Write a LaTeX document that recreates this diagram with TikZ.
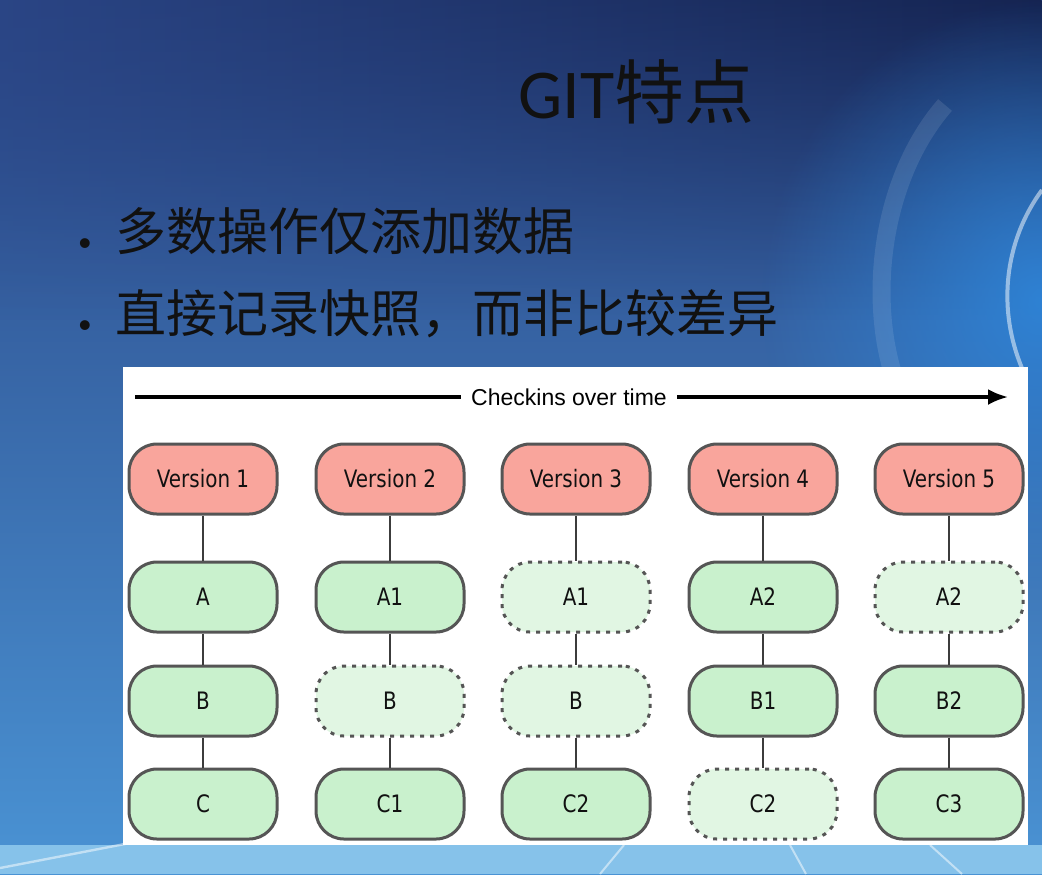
\documentclass[tikz,border=0pt]{standalone}
\usepackage{fontspec}
\setmainfont{Liberation Sans}
\newfontfamily\cjkfont{Noto Sans CJK SC}
\newfontfamily\titlefont{Carlito}
\newfontfamily\boxfont[FakeStretch=0.83]{DejaVu Sans}
\usetikzlibrary{arrows.meta,fadings}

\definecolor{bgtop}{HTML}{2A4585}
\definecolor{bgbot}{HTML}{4A93D4}
\definecolor{bgdark}{HTML}{101C45}
\definecolor{glow}{HTML}{2E86DA}
\definecolor{floor}{HTML}{86C2EA}
\definecolor{verfill}{HTML}{F9A59C}
\definecolor{snapfill}{HTML}{C9F1CD}
\definecolor{samefill}{HTML}{E1F6E3}
\definecolor{edge}{HTML}{555555}
\definecolor{ink}{HTML}{111111}

\tikzfading[name=glowfade, inner color=transparent!0, outer color=transparent!100]

\tikzset{
  box/.style={rounded corners=14pt, minimum width=74pt, minimum height=35pt,
    line width=1.5pt, draw=edge, text=ink, font=\boxfont\fontsize{12}{14}\selectfont},
  ver/.style={box, fill=verfill},
  snap/.style={box, fill=snapfill},
  same/.style={box, fill=samefill, draw=edge, dash pattern=on 2pt off 3pt},
  link/.style={draw=edge!70!black, line width=0.8pt},
  timeline/.style={line width=1.6pt, black},
}

\begin{document}
\begin{tikzpicture}[x=0.5pt,y=-0.5pt]
\useasboundingbox (0,0) rectangle (1042,874);

% slide backdrop
\shade[top color=bgtop, bottom color=bgbot] (0,0) rectangle (1042,874);
\shade[left color=bgtop, right color=bgdark, path fading=south, opacity=.8] (0,0) rectangle (1042,320);
\fill[glow, path fading=glowfade, opacity=.9] (1042,300) ellipse (140pt and 150pt);
\draw[white, opacity=.1, line width=9pt] (945,105) .. controls (880,180) and (868,300) .. (895,380);
\draw[white, opacity=.5, line width=2pt] (1042,190) .. controls (1005,240) and (995,310) .. (1025,375);
\fill[floor] (0,845) rectangle (1042,874);
\draw[white, opacity=.5, line width=1.2pt] (0,868) -- (130,843);
\draw[white, opacity=.5, line width=1pt] (600,874) -- (624,845);
\draw[white, opacity=.5, line width=1pt] (790,845) -- (806,874);
\draw[white, opacity=.5, line width=1pt] (930,845) -- (962,874);

% title and bullets
\node[anchor=base west, text=ink, inner sep=0pt] (title) at (518,118)
  {\titlefont\fontsize{35}{40}\selectfont GIT\cjkfont 特点};
\node[anchor=base, text=ink, inner sep=0pt] (dot1) at (85,255) {\fontsize{18}{20}\selectfont •};
\node[anchor=base west, text=ink, inner sep=0pt] (line1) at (115,250)
  {\cjkfont\fontsize{25.5}{30}\selectfont 多数操作仅添加数据};
\node[anchor=base, text=ink, inner sep=0pt] (dot2) at (85,337) {\fontsize{18}{20}\selectfont •};
\node[anchor=base west, text=ink, inner sep=0pt] (line2) at (115,332)
  {\cjkfont\fontsize{25.5}{30}\selectfont 直接记录快照，而非比较差异};

% picture panel
\fill[white] (123,367) rectangle (1028,845);

% timeline
\node[inner sep=5pt, font=\fontsize{11.5}{13}\selectfont] (checkin) at (569,397) {Checkins over time};
\coordinate (tstart) at (135,397);
\coordinate (tend) at (1008,397);
\draw[timeline] (tstart) -- (checkin.west);
\draw[timeline, -{Latex[length=10pt,width=8pt]}] (checkin.east) -- (tend);

% versions
\node[ver] (v1) at (203,479) {Version 1};
\node[ver] (v2) at (390,479) {Version 2};
\node[ver] (v3) at (576,479) {Version 3};
\node[ver] (v4) at (763,479) {Version 4};
\node[ver] (v5) at (949,479) {Version 5};

% file A
\node[snap] (a1) at (203,597) {A};
\node[snap] (a2) at (390,597) {A1};
\node[same] (a3) at (576,597) {A1};
\node[snap] (a4) at (763,597) {A2};
\node[same] (a5) at (949,597) {A2};

% file B
\node[snap] (b1) at (203,701) {B};
\node[same] (b2) at (390,701) {B};
\node[same] (b3) at (576,701) {B};
\node[snap] (b4) at (763,701) {B1};
\node[snap] (b5) at (949,701) {B2};

% file C
\node[snap] (c1) at (203,804) {C};
\node[snap] (c2) at (390,804) {C1};
\node[snap] (c3) at (576,804) {C2};
\node[same] (c4) at (763,804) {C2};
\node[snap] (c5) at (949,804) {C3};

\foreach \i in {1,...,5} {
  \draw[link] (v\i) -- (a\i);
  \draw[link] (a\i) -- (b\i);
  \draw[link] (b\i) -- (c\i);
}
\end{tikzpicture}
\end{document}
